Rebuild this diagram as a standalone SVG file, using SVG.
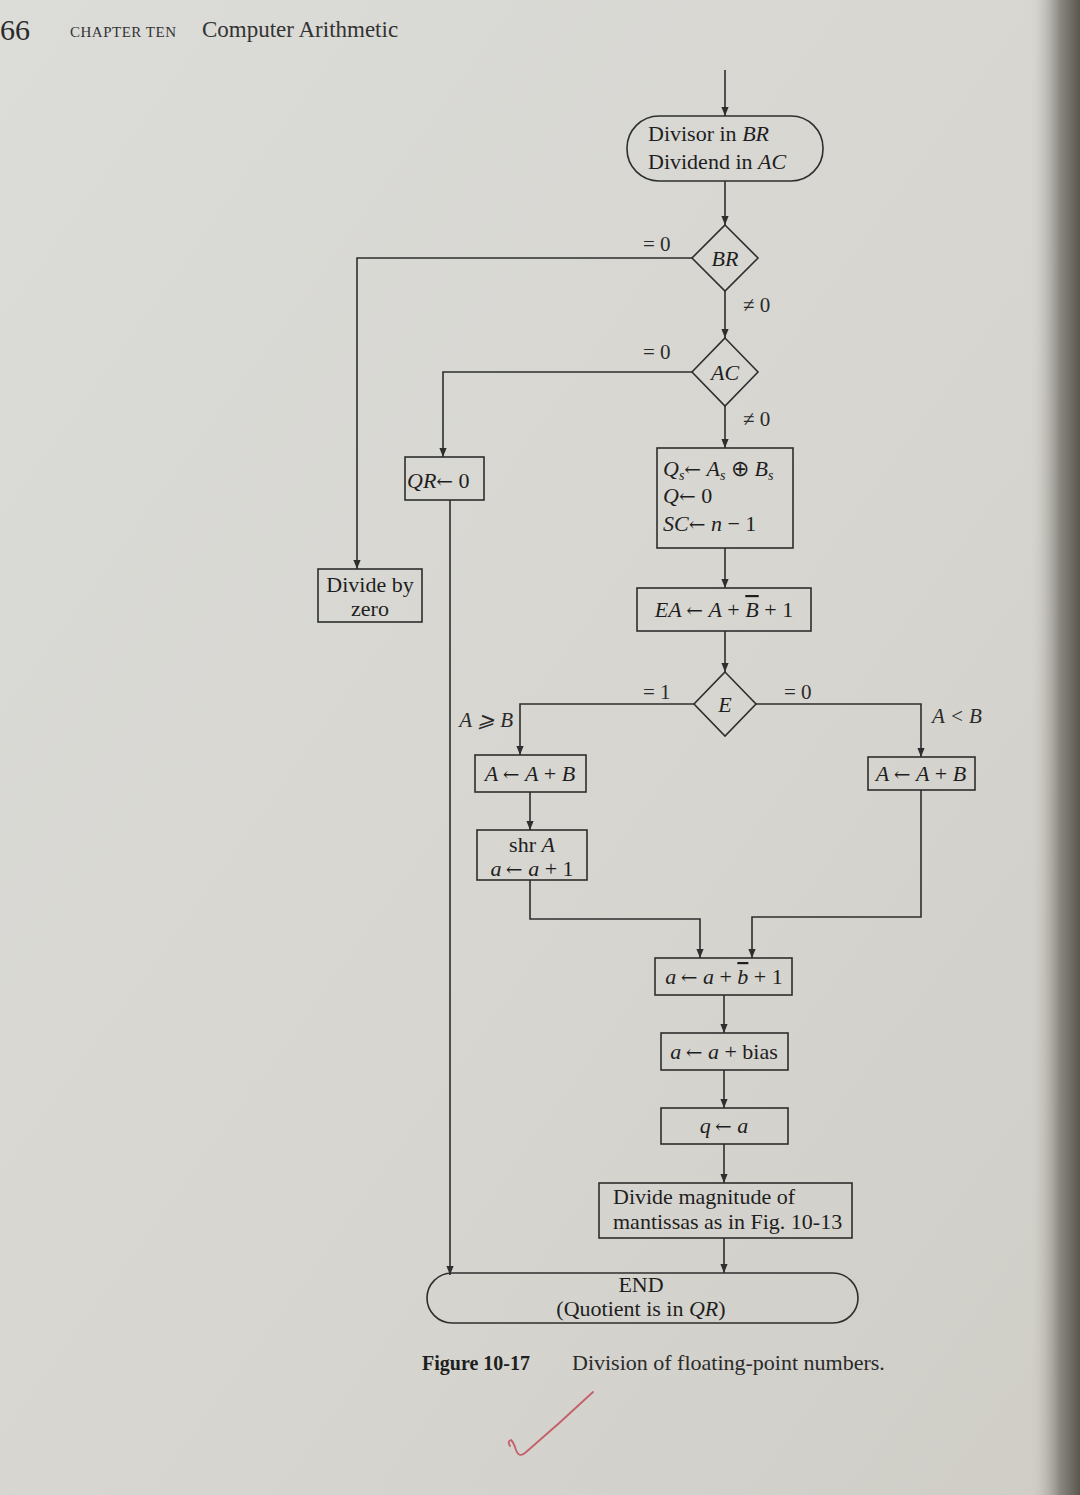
<svg xmlns="http://www.w3.org/2000/svg" width="1080" height="1495" viewBox="0 0 1080 1495">
<defs>
<linearGradient id="paper" x1="0" y1="0" x2="1" y2="1">
<stop offset="0" stop-color="#dcdcd8"/>
<stop offset="0.6" stop-color="#d6d5d0"/>
<stop offset="1" stop-color="#cfcdc6"/>
</linearGradient>
<linearGradient id="edge" x1="0" y1="0" x2="1" y2="0">
<stop offset="0" stop-color="#cfcdc6" stop-opacity="0"/>
<stop offset="0.6" stop-color="#8a8680"/>
<stop offset="1" stop-color="#5a5650"/>
</linearGradient>
<marker id="ah" viewBox="0 0 10 10" refX="10" refY="5" markerWidth="9" markerHeight="9" markerUnits="userSpaceOnUse" orient="auto">
<path d="M0,1 L10,5 L0,9 Z" fill="#2e2e2e"/>
</marker>
<style>
.ln{fill:none;stroke:#2e2e2e;stroke-width:1.6}
.bx{fill:none;stroke:#2e2e2e;stroke-width:1.6}
.t{font-family:"Liberation Serif",serif;font-size:22px;fill:#1e1e1e}
.lb{font-family:"Liberation Serif",serif;font-size:21px;fill:#2a2a2a}
.c{text-anchor:middle}
.i{font-style:italic}
.ov{text-decoration:overline}
.ar{font-family:"DejaVu Serif",serif;font-style:normal;font-size:20px}
</style>
</defs>
<rect x="0" y="0" width="1080" height="1495" fill="url(#paper)"/>
<rect x="1030" y="0" width="50" height="1495" fill="url(#edge)"/>

<g id="header">
<text x="0" y="40" font-family="Liberation Serif,serif" font-size="30" fill="#2a2a2a">66</text>
<text x="70" y="37" font-family="Liberation Serif,serif" font-size="15" fill="#333" letter-spacing="0.5">CHAPTER TEN</text>
<text x="202" y="37" font-family="Liberation Serif,serif" font-size="23" fill="#333">Computer Arithmetic</text>
</g>

<g id="connectors">
<path class="ln" marker-end="url(#ah)" d="M725,70 V116"/>
<path class="ln" marker-end="url(#ah)" d="M725,181 V225"/>
<path class="ln" marker-end="url(#ah)" d="M693,258 H357 V569"/>
<path class="ln" marker-end="url(#ah)" d="M725,291 V338"/>
<path class="ln" marker-end="url(#ah)" d="M693,372 H443 V457"/>
<path class="ln" marker-end="url(#ah)" d="M725,406 V448"/>
<path class="ln" marker-end="url(#ah)" d="M725,548 V588"/>
<path class="ln" marker-end="url(#ah)" d="M725,631 V672"/>
<path class="ln" marker-end="url(#ah)" d="M694,704 H520 V755"/>
<path class="ln" marker-end="url(#ah)" d="M756,704 H921 V757"/>
<path class="ln" marker-end="url(#ah)" d="M530,792 V830"/>
<path class="ln" marker-end="url(#ah)" d="M530,880 V919 H700 V958"/>
<path class="ln" marker-end="url(#ah)" d="M921,790 V917 H752 V958"/>
<path class="ln" marker-end="url(#ah)" d="M724,995 V1033"/>
<path class="ln" marker-end="url(#ah)" d="M724,1070 V1108"/>
<path class="ln" marker-end="url(#ah)" d="M724,1144 V1183"/>
<path class="ln" marker-end="url(#ah)" d="M724,1238 V1273"/>
<path class="ln" marker-end="url(#ah)" d="M450,500 V1275"/>
<text class="lb" x="643" y="251">= 0</text>
<text class="lb" x="743" y="312">≠ 0</text>
<text class="lb" x="643" y="359">= 0</text>
<text class="lb" x="743" y="426">≠ 0</text>
<text class="lb" x="643" y="699">= 1</text>
<text class="lb" x="784" y="699">= 0</text>
<text class="lb i" x="513" y="727" text-anchor="end">A ⩾ B</text>
<text class="lb i" x="932" y="723">A &lt; B</text>
</g>

<g id="start">
<rect class="bx" x="627" y="116" width="196" height="65" rx="32" ry="32"/>
<text class="t" x="648" y="141" font-size="24">Divisor in <tspan class="i">BR</tspan></text>
<text class="t" x="648" y="169" font-size="24">Dividend in <tspan class="i">AC</tspan></text>
</g>

<g id="dec-br">
<path class="bx" d="M725,225 L758,258 L725,291 L692,258 Z"/>
<text class="t c i" x="725" y="266">BR</text>
</g>

<g id="dec-ac">
<path class="bx" d="M725,338 L758,372 L725,406 L692,372 Z"/>
<text class="t c i" x="725" y="380">AC</text>
</g>

<g id="qr-zero">
<rect class="bx" x="405" y="457" width="79" height="43"/>
<text class="t i" x="407" y="488">QR<tspan class="ar">←</tspan><tspan font-style="normal"> 0</tspan></text>
</g>

<g id="init">
<rect class="bx" x="657" y="448" width="136" height="100"/>
<text class="t" x="663" y="476"><tspan class="i">Q</tspan><tspan class="i" font-size="14" dy="4">s</tspan><tspan class="ar" dy="-4">←</tspan><tspan> </tspan><tspan class="i">A</tspan><tspan class="i" font-size="14" dy="4">s</tspan><tspan dy="-4"> ⊕ </tspan><tspan class="i">B</tspan><tspan class="i" font-size="14" dy="4">s</tspan></text>
<text class="t" x="663" y="503"><tspan class="i">Q</tspan><tspan class="ar">←</tspan> 0</text>
<text class="t" x="663" y="531"><tspan class="i">SC</tspan><tspan class="ar">←</tspan> <tspan class="i">n</tspan> − 1</text>
</g>

<g id="div-zero">
<rect class="bx" x="318" y="569" width="104" height="53"/>
<text class="t c" x="370" y="592">Divide by</text>
<text class="t c" x="370" y="616">zero</text>
</g>

<g id="ea">
<rect class="bx" x="637" y="588" width="174" height="43"/>
<text class="t c" x="724" y="617"><tspan class="i">EA</tspan>&#8201;<tspan class="ar">←</tspan> <tspan class="i">A</tspan> + <tspan class="i ov">B</tspan> + 1</text>
</g>

<g id="dec-e">
<path class="bx" d="M725,672 L756,704 L725,736 L694,704 Z"/>
<text class="t c i" x="725" y="712">E</text>
</g>

<g id="add-left">
<rect class="bx" x="475" y="755" width="111" height="37"/>
<text class="t c" x="530" y="781"><tspan class="i">A</tspan>&#8201;<tspan class="ar">←</tspan> <tspan class="i">A</tspan> + <tspan class="i">B</tspan></text>
</g>

<g id="shr">
<rect class="bx" x="477" y="830" width="110" height="50"/>
<text class="t c" x="532" y="852">shr <tspan class="i">A</tspan></text>
<text class="t c" x="532" y="876"><tspan class="i">a</tspan>&#8201;<tspan class="ar">←</tspan> <tspan class="i">a</tspan> + 1</text>
</g>

<g id="add-right">
<rect class="bx" x="868" y="757" width="107" height="33"/>
<text class="t c" x="921" y="781"><tspan class="i">A</tspan>&#8201;<tspan class="ar">←</tspan> <tspan class="i">A</tspan> + <tspan class="i">B</tspan></text>
</g>

<g id="exp-sub">
<rect class="bx" x="655" y="958" width="137" height="37"/>
<text class="t c" x="724" y="984"><tspan class="i">a</tspan>&#8201;<tspan class="ar">←</tspan> <tspan class="i">a</tspan> + <tspan class="i ov">b</tspan> + 1</text>
</g>

<g id="bias">
<rect class="bx" x="661" y="1033" width="127" height="37"/>
<text class="t c" x="724" y="1059"><tspan class="i">a</tspan>&#8201;<tspan class="ar">←</tspan> <tspan class="i">a</tspan> + bias</text>
</g>

<g id="q-a">
<rect class="bx" x="661" y="1108" width="127" height="36"/>
<text class="t c" x="724" y="1133"><tspan class="i">q</tspan>&#8201;<tspan class="ar">←</tspan> <tspan class="i">a</tspan></text>
</g>

<g id="mant">
<rect class="bx" x="599" y="1183" width="253" height="55"/>
<text class="t" x="613" y="1204">Divide magnitude of</text>
<text class="t" x="613" y="1229">mantissas as in Fig. 10-13</text>
</g>

<g id="end">
<rect class="bx" x="427" y="1273" width="431" height="50" rx="25" ry="25"/>
<text class="t c" x="641" y="1292">END</text>
<text class="t c" x="641" y="1316">(Quotient is in <tspan class="i">QR</tspan>)</text>
</g>

<g id="caption">
<text x="422" y="1370" font-family="Liberation Serif,serif" font-size="20" fill="#1e1e1e" font-weight="bold">Figure 10-17</text>
<text x="572" y="1370" font-family="Liberation Serif,serif" font-size="22" fill="#2a2a2a">Division of floating-point numbers.</text>
</g>

<path d="M510,1446 q-3,-5 1,-6 q3,3 5,10 q3,8 9,3 q35,-30 68,-61" fill="none" stroke="#c4606a" stroke-width="1.8" stroke-linecap="round"/>
</svg>
